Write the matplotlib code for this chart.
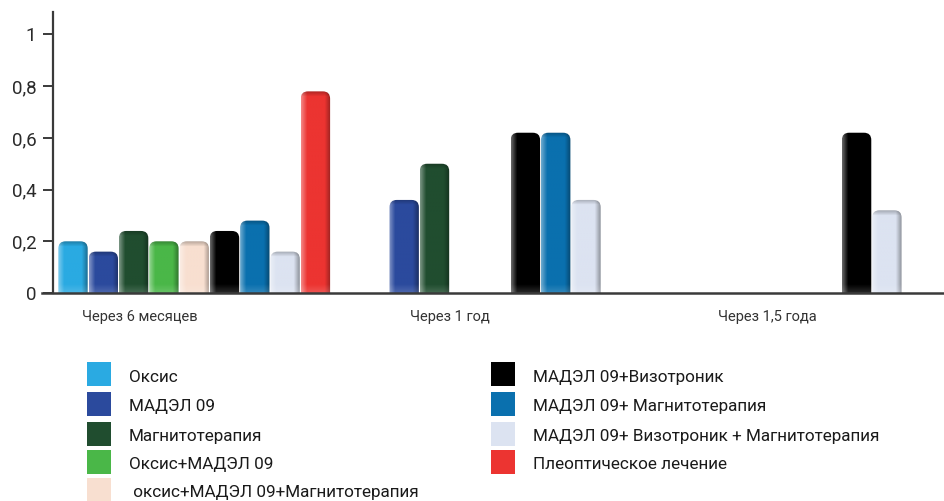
import numpy as np
import matplotlib
matplotlib.use("Agg")
import matplotlib.pyplot as plt
from matplotlib.patches import FancyBboxPatch, Rectangle
from matplotlib.colors import to_rgb

plt.rcParams["font.family"] = ["Roboto", "DejaVu Sans"]

# data
categories = ["Через 6 месяцев", "Через 1 год", "Через 1,5 года"]
series_names = ["Оксис", "МАДЭЛ 09", "Магнитотерапия", "Оксис+МАДЭЛ 09",
                " оксис+МАДЭЛ 09+Магнитотерапия", "МАДЭЛ 09+Визотроник",
                "МАДЭЛ 09+ Магнитотерапия",
                "МАДЭЛ 09+ Визотроник + Магнитотерапия", "Плеоптическое лечение"]
series_colors = ["#2aaae2", "#2b4a9d", "#204d2f", "#4ab748", "#f8dfd0",
                 "#000000", "#0a70ae", "#dce3f1", "#ec3431"]

oksis = [0.20, None, None]
madel = [0.16, 0.36, None]
magnito = [0.24, 0.50, None]
oksis_madel = [0.20, None, None]
oksis_madel_magnito = [0.20, None, None]
madel_vizotronik = [0.24, 0.62, 0.62]
madel_magnito = [0.28, 0.62, None]
madel_viz_magnito = [0.16, 0.36, 0.32]
pleoptic = [0.78, None, None]

series_values = [oksis, madel, magnito, oksis_madel, oksis_madel_magnito,
                 madel_vizotronik, madel_magnito, madel_viz_magnito, pleoptic]

# layout (slot units, one slot = one bar)
group_step = 9.93
bar_w = 0.97
slot_override = {(2, 5): 6}   # in the source the last black bar sits one slot right
label_offsets = [2.7, 3.0, 3.55]
y_bottom = -0.03
px_x = 30.3      # pixels per slot
px_y = 258.5     # pixels per unit value


def bar_image(color, height_px, n=40):
    rgb = np.array(to_rgb(color))
    t = np.linspace(0, 1, n)
    light = np.clip(1 - t / 0.2, 0, 1) * 0.4
    dark = np.clip((t - 0.8) / 0.2, 0, 1) * 0.35
    row = rgb[None, :] * (1 - light[:, None]) + light[:, None]
    row = row * (1 - dark[:, None])
    m = max(int(height_px), 4)
    img = np.repeat(row[None, :, :], m, axis=0)
    ys = np.arange(m)
    top = np.clip((ys - (m - 6)) / 6, 0, 1) * 0.3
    bot = np.clip(1 - ys / 16, 0, 1) * 0.3
    img = img * (1 - top[:, None, None])
    img = img * (1 - bot[:, None, None]) + bot[:, None, None]
    return np.clip(img, 0, 1)


fig = plt.figure(figsize=(9.44, 5.01), dpi=100)
ax = fig.add_axes([53 / 944, 1 - 293 / 501, 891 / 944, 281 / 501])

for s, vals in enumerate(series_values):
    for g, v in enumerate(vals):
        if v is None:
            continue
        slot = slot_override.get((g, s), s)
        x = g * group_step + slot
        patch = FancyBboxPatch((x, y_bottom), bar_w, v - y_bottom,
                               boxstyle="round,pad=0,rounding_size=0.24",
                               mutation_aspect=px_x / px_y,
                               fc="none", lw=0)
        ax.add_patch(patch)
        im = ax.imshow(bar_image(series_colors[s], (v - y_bottom) * px_y),
                       extent=[x, x + bar_w, y_bottom, v], origin="lower",
                       aspect="auto", interpolation="bilinear", zorder=2)
        im.set_clip_path(patch)

ax.set_xlim(-0.175, 29.23)
ax.set_ylim(0, 1.087)

for side in ["top", "right", "bottom"]:
    ax.spines[side].set_visible(False)
ax.spines["left"].set_color("#3a3a3a")
ax.spines["left"].set_linewidth(1.6)
ax.axhline(0, xmin=-11 / 891, xmax=1, color="#3a3a3a", lw=1.8, clip_on=False, zorder=3)

ax.set_yticks([0, 0.2, 0.4, 0.6, 0.8, 1])
ax.set_yticklabels(["0", "0,2", "0,4", "0,6", "0,8", "1"])
ax.tick_params(axis="y", direction="out", length=7, width=1.4, color="#3a3a3a",
               labelsize=13.5, labelcolor="#2a2a2a", pad=5)
ax.set_xticks([g * group_step + label_offsets[g] for g in range(len(categories))])
ax.set_xticklabels(categories)
ax.tick_params(axis="x", length=0, labelsize=10.5, labelcolor="#333333", pad=12)

# legend drawn by hand, two columns
rows = [374, 404, 434, 462, 490]
baselines = [382, 411, 441, 469, 497]
for i, name in enumerate(series_names):
    col, r = divmod(i, 5)
    sq_x = 87 if col == 0 else 491
    cy = rows[r]
    fig.patches.append(Rectangle((sq_x / 944, 1 - (cy + 12) / 501), 24 / 944, 24 / 501,
                                 transform=fig.transFigure, fc=series_colors[i], lw=0))
    fig.text((129 if col == 0 else 533) / 944, 1 - baselines[r] / 501, name,
             fontsize=12.3, color="#1a1a1a", va="baseline", ha="left")

fig.savefig("out.png", dpi=100)
